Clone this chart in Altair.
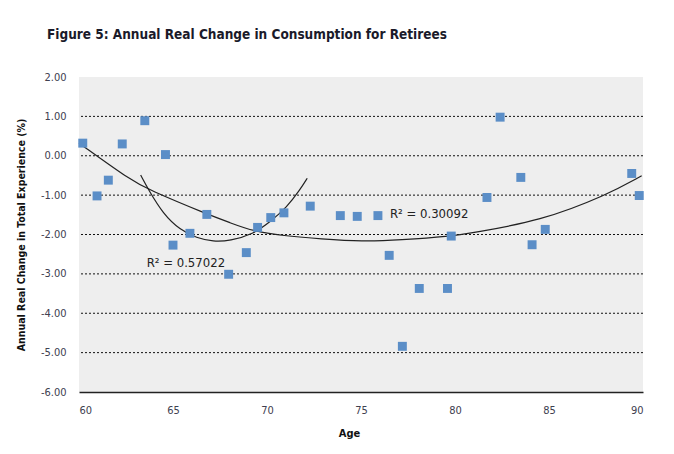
import altair as alt
import pandas as pd

# Scatter points
ages = [60.2, 60.96, 61.56, 62.3, 63.5, 64.6, 65.0, 65.9, 66.8, 67.96, 68.9, 69.5, 70.2, 70.9, 72.3,
        73.9, 74.8, 75.9, 76.5, 77.2, 78.1, 79.6, 79.8, 81.7, 82.4, 83.5, 84.1, 84.8, 89.4, 89.8]
changes = [0.32, -1.02, -0.62, 0.30, 0.89, 0.03, -2.27, -1.97, -1.49, -3.01, -2.46, -1.82, -1.57, -1.45, -1.28,
           -1.52, -1.54, -1.52, -2.53, -4.84, -3.37, -3.37, -2.04, -1.06, 0.98, -0.55, -2.26, -1.87, -0.45, -1.01]

# Trend line (R^2 = 0.30092)
wide_age = [60.0, 62.71, 63.69, 66.79, 68.03, 69.27, 71.05, 72.82, 75.1, 77.07, 79.73, 80.96, 84.52, 88.07, 89.93]
wide_val = [0.32, -0.61, -0.86, -1.48, -1.70, -1.92, -2.04, -2.11, -2.18, -2.14, -2.05, -1.95, -1.66, -1.0, -0.51]

# Trend line (R^2 = 0.57022)
narrow_age = [63.28, 63.69, 64.48, 65.37, 66.26, 67.14, 68.03, 69.27, 70.16, 71.05, 71.76, 72.14]
narrow_val = [-0.49, -0.86, -1.48, -1.88, -2.09, -2.18, -2.16, -1.99, -1.68, -1.31, -0.86, -0.57]

grid_values = [1, 0, -1, -2, -3, -4, -5]
y_ticks = [2, 1, 0, -1, -2, -3, -4, -5, -6]
x_ticks = [60, 65, 70, 75, 80, 85, 90]

labels = ["R\u00b2 = 0.30092", "R\u00b2 = 0.57022"]
label_age = [76.54, 63.6]
label_val = [-1.47, -2.72]

FONT = "'Liberation Sans Narrow', 'DejaVu Sans Condensed', 'Roboto Condensed', Roboto, sans-serif"

pts = pd.DataFrame({"age": ages, "chg": changes})
wide = pd.DataFrame({"age": wide_age, "chg": wide_val})
narrow = pd.DataFrame({"age": narrow_age, "chg": narrow_val})
grid = pd.DataFrame({"g": grid_values})
lab = pd.DataFrame({"t": labels, "age": label_age, "chg": label_val})

xs = alt.Scale(domain=[60, 90], nice=False, zero=False)
ys = alt.Scale(domain=[-6, 2], nice=False, zero=False)

xaxis = alt.Axis(values=x_ticks, grid=False, ticks=False, domain=True, domainColor="#222222",
                 domainWidth=1.5, labelPadding=12, labelFont=FONT, labelFontSize=11,
                 labelColor="#404050", labelOverlap=False,
                 title="Age", titleFont=FONT, titleFontSize=11,
                 titleFontWeight="bold", titleColor="#111111", titlePadding=12, titleX=270)
yaxis = alt.Axis(values=y_ticks, format=".2f", labelExpr="replace(datum.label, '\u2212', '-')",
                 grid=False, ticks=False, domain=False, labelOverlap=False,
                 labelPadding=13, labelFont=FONT, labelFontSize=11, labelColor="#404050",
                 title="Annual Real Change in Total Experience (%)", titleFont=FONT,
                 titleFontSize=10.5, titleFontWeight="bold", titleColor="#111111", titlePadding=14)

gridrules = alt.Chart(grid).mark_rule(color="#111111", strokeDash=[2, 2], strokeWidth=1).encode(
    y=alt.Y("g:Q", scale=ys, axis=yaxis)
)

points = alt.Chart(pts).mark_point(shape="square", filled=True, size=80, color="#5b8ec7", opacity=1).encode(
    x=alt.X("age:Q", scale=xs, axis=xaxis),
    y=alt.Y("chg:Q", scale=ys, axis=yaxis),
)

line1 = alt.Chart(wide).mark_line(color="#222222", strokeWidth=1.2, interpolate="basis").encode(
    x=alt.X("age:Q", scale=xs, axis=xaxis), y=alt.Y("chg:Q", scale=ys, axis=yaxis)
)
line2 = alt.Chart(narrow).mark_line(color="#222222", strokeWidth=1.2, interpolate="basis").encode(
    x=alt.X("age:Q", scale=xs, axis=xaxis), y=alt.Y("chg:Q", scale=ys, axis=yaxis)
)

texts = alt.Chart(lab).mark_text(align="left", baseline="middle", font=FONT, fontSize=13,
                                 color="#222222").encode(
    x=alt.X("age:Q", scale=xs, axis=xaxis), y=alt.Y("chg:Q", scale=ys, axis=yaxis), text="t:N"
)

chart = alt.layer(gridrules, line1, line2, points, texts).properties(
    width=564,
    height=315,
    autosize=alt.AutoSizeParams(type="none"),
    padding={"left": 71, "top": 69, "right": 23, "bottom": 54},
    background="white",
    title=alt.TitleParams(
        "Figure 5: Annual Real Change in Consumption for Retirees",
        anchor="start", frame="group", dx=-32, offset=30,
        font=FONT, fontSize=13.5, fontWeight="bold", color="#1a1a2a",
    ),
).configure_view(fill="#eeeeee", stroke=None)

chart.save("out.html", embed_options={"renderer": "svg", "actions": False})
